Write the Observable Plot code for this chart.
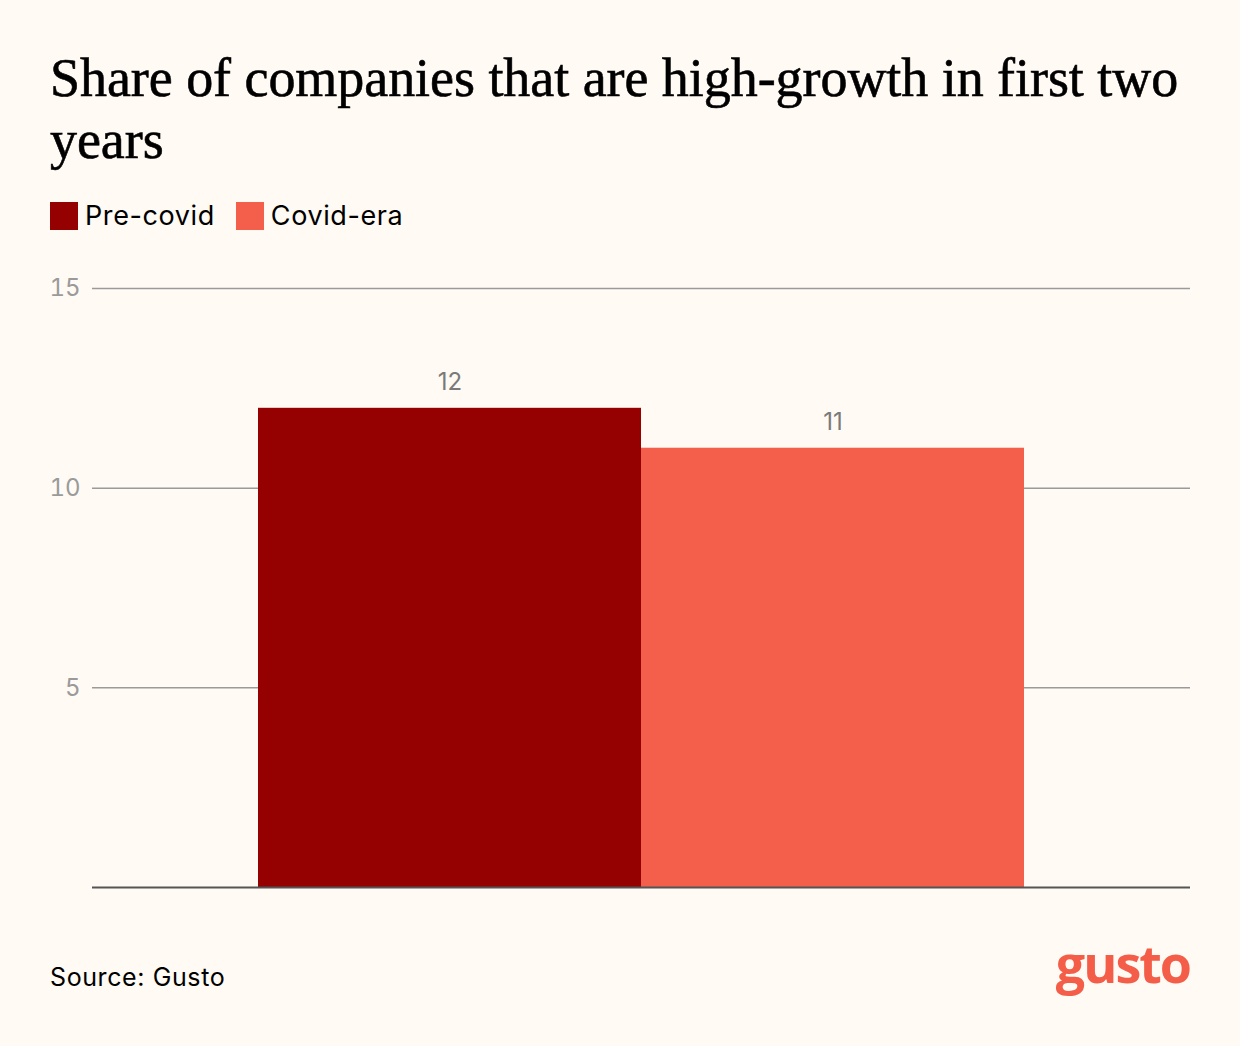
<!DOCTYPE html>
<html>
<head>
<meta charset="utf-8">
<script src="https://cdn.jsdelivr.net/npm/d3@7"></script>
<script src="https://cdn.jsdelivr.net/npm/@observablehq/plot@0.6"></script>
<style>
  html, body { margin: 0; padding: 0; background: #fffaf3; }
  #page { position: relative; width: 1240px; height: 1046px; background: #fffaf3; overflow: hidden; }
  h1 { position: absolute; left: 50px; top: 47px; margin: 0; width: 1150px;
       font-family: "Liberation Serif", "DejaVu Serif", serif; font-weight: normal;
       font-size: 54px; line-height: 62px; color: #000; letter-spacing: -0.05px;
       -webkit-text-stroke: 0.6px #000; }
  #legend { position: absolute; left: 50px; top: 199px; display: flex; align-items: center;
       font-family: Inter, "Noto Sans", sans-serif; font-size: 27px; color: #000; letter-spacing: 0.6px; }
  .item { display: flex; align-items: center; margin-right: 21px; }
  .sw { width: 28px; height: 28px; margin-right: 7px; display: inline-block; }
  #chart { position: absolute; left: 0; top: 260px; }
  #source { position: absolute; left: 50px; top: 962px; font-family: Inter, "Noto Sans", sans-serif;
       font-size: 25px; color: #000; letter-spacing: 0.6px; }
  #logo { position: absolute; right: 50px; top: 927px; font-family: "Open Sans", Lato, sans-serif;
       font-weight: 700; font-size: 52px; color: #f45d48; letter-spacing: -2px; }
</style>
</head>
<body>
<div id="page">
  <h1>Share of companies that are high-growth in first two years</h1>
  <div id="legend"></div>
  <div id="chart"></div>
  <div id="source">Source: Gusto</div>
  <div id="logo">gusto</div>
</div>
<script>
const categories = ["Pre-covid", "Covid-era"];
const values = [12, 11];
const colors = ["#950000", "#f45f4b"];
const yTicks = [5, 10, 15];

const data = categories.map((c, i) => ({category: c, value: values[i]}));

const legend = document.getElementById("legend");
categories.forEach((c, i) => {
  const it = document.createElement("div");
  it.className = "item";
  it.innerHTML = `<span class="sw" style="background:${colors[i]}"></span><span>${c}</span>`;
  legend.appendChild(it);
});

const chart = Plot.plot({
  width: 1240,
  height: 647,
  marginLeft: 92,
  marginRight: 50,
  marginTop: 28,
  marginBottom: 20,
  style: {background: "transparent", fontFamily: "Inter, 'Noto Sans', sans-serif", fontSize: "24px"},
  x: {domain: categories, paddingInner: 0, paddingOuter: 0.43, axis: null},
  y: {domain: [0, 15], ticks: yTicks, tickSize: 0, tickPadding: 12, label: null},
  color: {domain: categories, range: colors},
  marks: [
    Plot.ruleY(yTicks, {stroke: "#9a9a9a", strokeWidth: 1.5}),
    Plot.axisY({ticks: yTicks, tickSize: 0, tickPadding: 12, label: null, color: "#9a9a9a", fontSize: 24}),
    Plot.barY(data, {x: "category", y: "value", fill: "category"}),
    Plot.text(data, {x: "category", y: "value", text: d => String(d.value), dy: -26, fill: "#7a7a7a", fontSize: 24}),
    Plot.ruleY([0], {stroke: "#555", strokeWidth: 2})
  ]
});
document.getElementById("chart").appendChild(chart);
</script>
</body>
</html>
